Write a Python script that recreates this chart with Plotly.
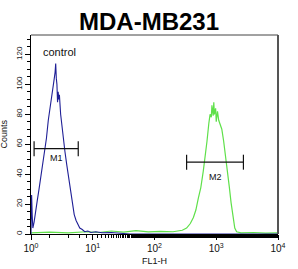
import numpy as np
import plotly.graph_objects as go

# control (blue) histogram: log10(FL1-H), counts
ctrl_log = [0.00, 0.01, 0.02, 0.03, 0.05, 0.07, 0.10, 0.13, 0.16, 0.19, 0.22, 0.25, 0.28, 0.31,
            0.33, 0.35, 0.37, 0.39, 0.40, 0.41, 0.42, 0.43, 0.44, 0.45, 0.46, 0.48, 0.50, 0.52,
            0.55, 0.58, 0.61, 0.64, 0.67, 0.70, 0.73, 0.76, 0.79, 0.83, 0.87, 0.92, 0.97, 1.05,
            1.15, 1.30, 1.45, 1.60, 2.50, 4.00]
ctrl_cnt = [0, 26, 12, 4, 8, 15, 22, 30, 38, 45, 55, 64, 76, 86,
            90, 97, 102, 108, 114, 104, 100, 88, 95, 90, 93, 80, 72, 64,
            55, 46, 38, 30, 21, 13, 9, 6, 4, 3, 1.5, 2, 1, 1.5,
            0.8, 1, 0.5, 0, 0, 0]

# sample (green) histogram
samp_log = [0.0, 0.3, 0.6, 0.9, 1.1, 1.3, 1.5, 1.7, 1.9, 2.1, 2.3, 2.45, 2.52, 2.58, 2.63, 2.67,
            2.71, 2.75, 2.79, 2.82, 2.85, 2.88, 2.90, 2.92, 2.93, 2.95, 2.96, 2.97, 2.99, 3.00,
            3.02, 3.04, 3.06, 3.09, 3.12, 3.15, 3.18, 3.21, 3.24, 3.27, 3.30, 3.33, 3.40, 3.60,
            3.80, 4.00]
samp_cnt = [0.8, 1.2, 0.7, 1.5, 1.0, 2.0, 1.2, 2.2, 1.4, 1.8, 1.5, 2.5, 4, 7, 11, 16,
            24, 31, 42, 51, 62, 74, 80, 78, 86, 79, 88, 80, 84, 75,
            82, 76, 73, 70, 62, 53, 44, 32, 21, 11, 4, 1.5, 0.8, 1.0,
            0.6, 0.8]

# marker gates: (name, log start, log end, height, label count)
gates = [("M1", 0.05, 0.765, 57, 50.5), ("M2", 2.52, 3.44, 48, 38)]

x_ticks = [1, 10, 100, 1000, 10000]
x_ticktext = ["10<sup>0</sup>", "10<sup>1</sup>", "10<sup>2</sup>", "10<sup>3</sup>", "10<sup>4</sup>"]
y_ticks = [0, 20, 40, 60, 80, 100, 120]

fig = go.Figure()
fig.add_trace(go.Scatter(x=10 ** np.array(samp_log), y=samp_cnt, mode="lines",
                         line=dict(color="#5fe04a", width=1.2), showlegend=False))
fig.add_trace(go.Scatter(x=10 ** np.array(ctrl_log), y=ctrl_cnt, mode="lines",
                         line=dict(color="#1f1f96", width=1.1), showlegend=False))

for name, a, b, h, ly in gates:
    xa, xb = 10 ** a, 10 ** b
    fig.add_trace(go.Scatter(x=[xa, xa, None, xa, xb, None, xb, xb],
                             y=[h - 5, h + 5, None, h, h, None, h - 5, h + 5],
                             mode="lines", line=dict(color="#111111", width=1.2),
                             showlegend=False))
    fig.add_annotation(x=(a + b) / 2, y=ly, text=name, showarrow=False,
                       font=dict(size=9, color="#111111", family="Liberation Sans"))

fig.add_annotation(xref="paper", yref="paper", x=0.04, y=0.955, xanchor="left",
                   text="control", showarrow=False,
                   font=dict(size=11, color="#111111", family="Liberation Sans"))
fig.add_annotation(xref="paper", yref="paper", x=0.5, y=-0.1, yanchor="top",
                   text="FL1-H", showarrow=False,
                   font=dict(size=9, color="#111111", family="Liberation Sans"))
fig.add_annotation(xref="paper", yref="paper", x=-0.085, y=0.5, xanchor="right",
                   text="Counts", textangle=-90, showarrow=False,
                   font=dict(size=9, color="#111111", family="Liberation Sans"))

# top and right frame
fig.add_shape(type="line", xref="paper", yref="paper", x0=0, x1=1, y0=1, y1=1,
              line=dict(color="#444444", width=1))
fig.add_shape(type="line", xref="paper", yref="paper", x0=1, x1=1, y0=0, y1=1,
              line=dict(color="#555555", width=2))

fig.update_layout(
    width=298, height=269,
    margin=dict(l=31, r=16, t=35, b=35),
    paper_bgcolor="white", plot_bgcolor="white",
    title=dict(text="<b>MDA-MB231</b>", x=0.5, xanchor="center", y=0.92, yanchor="middle",
               font=dict(size=24, color="black", family="Liberation Sans")),
    font=dict(family="Liberation Sans", color="#111111"),
)
fig.update_xaxes(type="log", range=[0, 4], tickvals=x_ticks, ticktext=x_ticktext,
                 showgrid=False, zeroline=False, showline=True, linecolor="black", linewidth=1,
                 ticks="outside", ticklen=5, tickcolor="black",
                 minor=dict(ticks="outside", ticklen=3, tickcolor="black", showgrid=False),
                 tickfont=dict(size=10, color="#111111"))
fig.update_yaxes(range=[0, 133], tickvals=y_ticks, tickangle=-90,
                 showgrid=False, zeroline=False, showline=True, linecolor="black", linewidth=1,
                 ticks="outside", ticklen=5, tickcolor="black",
                 minor=dict(dtick=5, ticks="outside", ticklen=3, tickcolor="black", showgrid=False),
                 tickfont=dict(size=8, color="#111111"))

fig.write_html("out.html")
